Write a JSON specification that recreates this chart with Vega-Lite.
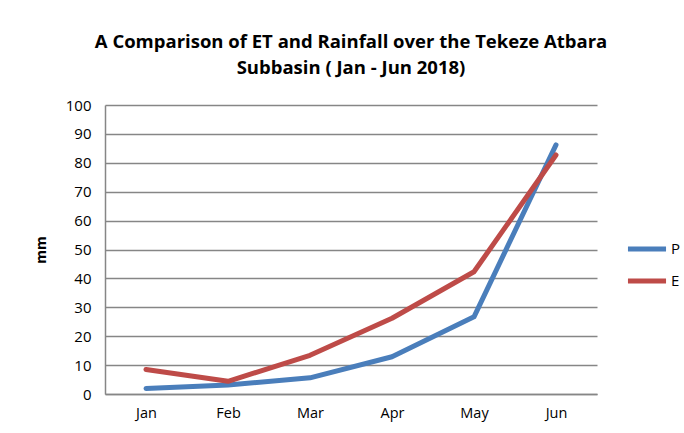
{
  "$schema": "https://vega.github.io/schema/vega-lite/v6.json",
  "width": 492,
  "height": 289,
  "autosize": {"type": "none"},
  "padding": {"left": 105, "top": 105, "right": 87, "bottom": 39},
  "background": "white",
  "title": {
    "text": ["A Comparison of ET and Rainfall over the Tekeze Atbara", "Subbasin ( Jan - Jun 2018)"],
    "font": "Open Sans",
    "fontSize": 18.5,
    "fontWeight": "bold",
    "color": "black",
    "anchor": "middle",
    "lineHeight": 26,
    "offset": 21
  },
  "data": {
    "values": [
      {"month": "Jan", "series": "P", "value": 1.9},
      {"month": "Feb", "series": "P", "value": 3.1},
      {"month": "Mar", "series": "P", "value": 5.6},
      {"month": "Apr", "series": "P", "value": 12.9},
      {"month": "May", "series": "P", "value": 26.7},
      {"month": "Jun", "series": "P", "value": 86.2},
      {"month": "Jan", "series": "E", "value": 8.5},
      {"month": "Feb", "series": "E", "value": 4.4},
      {"month": "Mar", "series": "E", "value": 13.4},
      {"month": "Apr", "series": "E", "value": 26.2},
      {"month": "May", "series": "E", "value": 42.3},
      {"month": "Jun", "series": "E", "value": 82.7}
    ]
  },
  "mark": {"type": "line", "strokeWidth": 5, "strokeCap": "round", "strokeJoin": "round"},
  "encoding": {
    "x": {
      "field": "month",
      "type": "ordinal",
      "sort": ["Jan", "Feb", "Mar", "Apr", "May", "Jun"],
      "scale": {"type": "point", "padding": 0.5},
      "axis": {
        "title": null,
        "labelAngle": 0,
        "labelFont": "Open Sans",
        "labelFontSize": 14.5,
        "labelColor": "black",
        "labelPadding": 12,
        "ticks": false,
        "domainColor": "#868686",
        "domainWidth": 1.5,
        "grid": false
      }
    },
    "y": {
      "field": "value",
      "type": "quantitative",
      "scale": {"domain": [0, 100], "nice": false},
      "axis": {
        "title": "mm",
        "titleFont": "Open Sans",
        "titleFontSize": 14,
        "titleFontWeight": "bold",
        "titleColor": "black",
        "titlePadding": 17,
        "values": [0, 10, 20, 30, 40, 50, 60, 70, 80, 90, 100],
        "labelFont": "Open Sans",
        "labelFontSize": 15,
        "labelColor": "black",
        "labelPadding": 14,
        "ticks": false,
        "domainColor": "#868686",
        "domainWidth": 1.5,
        "grid": true,
        "gridColor": "#868686",
        "gridWidth": 1.5
      }
    },
    "color": {
      "field": "series",
      "type": "nominal",
      "scale": {"domain": ["P", "E"], "range": ["#4a7ebb", "#be4b48"]},
      "legend": {
        "title": null,
        "orient": "none",
        "legendX": 520,
        "legendY": 122,
        "symbolType": "stroke",
        "symbolSize": 1450,
        "symbolStrokeWidth": 5,
        "labelFont": "Open Sans",
        "labelFontSize": 15,
        "labelColor": "black",
        "labelOffset": 2,
        "rowPadding": 0
      }
    }
  },
  "config": {"view": {"stroke": null}}
}
